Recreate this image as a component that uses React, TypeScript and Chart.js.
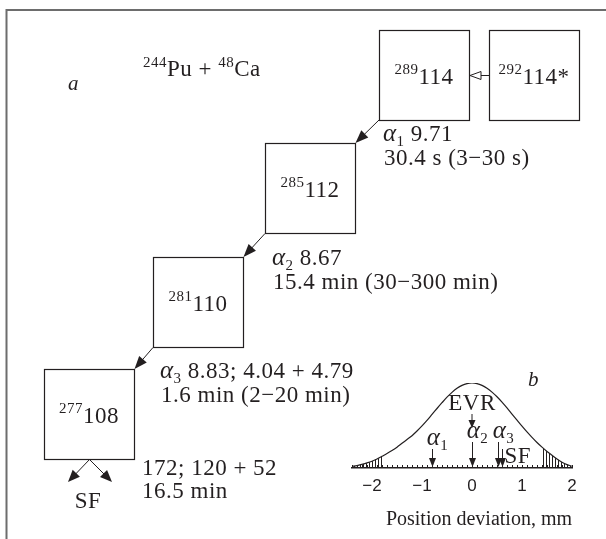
import React, { useEffect, useRef } from "react";
import { Chart, registerables } from "chart.js";

Chart.register(...registerables);

// ---------- panel b data (EVR position distribution) ----------
const positionMm = [
  -2.4, -2.3, -2.2, -2.1, -2.0, -1.9, -1.8, -1.7, -1.6, -1.5, -1.4, -1.3, -1.2, -1.1, -1.0, -0.9, -0.8, -0.7, -0.6, -0.5, -0.4, -0.3, -0.2, -0.1,
  0.0, 0.1, 0.2, 0.3, 0.4, 0.5, 0.6, 0.7, 0.8, 0.9, 1.0, 1.1, 1.2, 1.3, 1.4, 1.5, 1.6, 1.7, 1.8, 1.9, 2.0,
];
const distribution = [
  0.018, 0.028, 0.043, 0.06, 0.08, 0.105, 0.138, 0.17, 0.205, 0.245, 0.29, 0.335, 0.38, 0.435, 0.495, 0.56, 0.63, 0.7, 0.768, 0.833, 0.89, 0.937, 0.972, 0.993,
  1.0, 0.993, 0.972, 0.938, 0.893, 0.838, 0.775, 0.707, 0.635, 0.563, 0.492, 0.424, 0.36, 0.3, 0.245, 0.195, 0.15, 0.105, 0.068, 0.04, 0.02,
];
const hatchLeftMm = -1.8;
const hatchRightMm = 1.4;
const xTickValues = [-2, -1, 0, 1, 2];
const xTickLabels = ["\u22122", "\u22121", "0", "1", "2"];
const axisTitle = "Position deviation, mm";
const evrLabel = "EVR";
const evrMm = 0;
const alphaMarkerIndex = ["1", "2", "3"];
const alphaMarkerMm = [-0.8, 0, 0.52];
const sfLabel = "SF";
const sfMarkerMm = 0.6;
const minorTickStepMm = 0.1;

// ---------- panel a data (decay chain) ----------
const massNumbers = ["289", "292", "285", "281", "277"];
const elements = ["114", "114*", "112", "110", "108"];
const alphaIndex = ["1", "2", "3"];
const alphaEnergies = ["9.71", "8.67", "8.83; 4.04 + 4.79"];
const halfLives = ["30.4 s (3\u221230 s)", "15.4 min (30\u2212300 min)", "1.6 min (2\u221220 min)"];
const sfEnergies = "172; 120 + 52";
const sfHalfLife = "16.5 min";
const reactionMass = ["244", "48"];
const reactionText = ["Pu + ", "Ca"];
const panelLabels = ["a", "b"];

const SERIF = "'Liberation Serif', 'Times New Roman', serif";
const SANS = "'Liberation Sans', Arial, sans-serif";
const INK = "#231f20";

type Seg = { t: string; f: string; dy?: number };

function segsWidth(ctx: CanvasRenderingContext2D, segs: Seg[]) {
  let w = 0;
  for (const s of segs) {
    ctx.font = s.f;
    w += ctx.measureText(s.t).width;
  }
  return w;
}

function drawSegs(ctx: CanvasRenderingContext2D, x: number, y: number, segs: Seg[], align: "left" | "center" = "left") {
  const w = segsWidth(ctx, segs);
  let cx = align === "center" ? x - w / 2 : x;
  ctx.textAlign = "left";
  ctx.textBaseline = "alphabetic";
  for (const s of segs) {
    ctx.font = s.f;
    ctx.fillText(s.t, cx, y + (s.dy || 0));
    cx += ctx.measureText(s.t).width;
  }
}

function arrow(ctx: CanvasRenderingContext2D, x1: number, y1: number, x2: number, y2: number, len = 12, half = 4.5, open = false) {
  const a = Math.atan2(y2 - y1, x2 - x1);
  const bx = x2 - len * Math.cos(a);
  const by = y2 - len * Math.sin(a);
  ctx.beginPath();
  ctx.moveTo(x1, y1);
  ctx.lineTo(open ? bx : x2 - 2 * Math.cos(a), open ? by : y2 - 2 * Math.sin(a));
  ctx.stroke();
  const px = -Math.sin(a) * half;
  const py = Math.cos(a) * half;
  ctx.beginPath();
  ctx.moveTo(x2, y2);
  ctx.lineTo(bx + px, by + py);
  ctx.lineTo(bx - px, by - py);
  ctx.closePath();
  if (open) ctx.stroke();
  else ctx.fill();
}

export default function App() {
  const ref = useRef<HTMLCanvasElement | null>(null);

  useEffect(() => {
    const canvas = ref.current;
    if (!canvas) return;

    const pc = document.createElement("canvas");
    pc.width = 3;
    pc.height = 4;
    const pctx = pc.getContext("2d")!;
    pctx.fillStyle = INK;
    pctx.fillRect(0, 0, 1, 4);
    const hatch = canvas.getContext("2d")!.createPattern(pc, "repeat")!;

    const curve = positionMm.map((x, i) => ({ x, y: distribution[i] }));
    const leftTail = curve.filter((p) => p.x <= hatchLeftMm + 1e-9);
    const rightTail = curve.filter((p) => p.x >= hatchRightMm - 1e-9);

    const fMain = `23px ${SERIF}`;
    const fSup = `15px ${SERIF}`;
    const fAlpha = `italic 25px ${SERIF}`;
    const fSub = `15px ${SERIF}`;
    const fLetter = `italic 21px ${SERIF}`;

    const overlay = {
      id: "overlay",
      afterDraw(chart: any) {
        const ctx: CanvasRenderingContext2D = chart.ctx;
        ctx.save();
        (ctx as any).letterSpacing = "0.5px";
        ctx.fillStyle = INK;
        ctx.strokeStyle = INK;

        // frame
        ctx.strokeStyle = "#6d6d6d";
        ctx.lineWidth = 2;
        ctx.beginPath();
        ctx.moveTo(6.5, 539);
        ctx.lineTo(6.5, 10);
        ctx.lineTo(606, 10);
        ctx.stroke();
        ctx.strokeStyle = INK;

        // boxes
        const boxes = [
          [379, 30],
          [489, 30],
          [265, 143],
          [153, 257],
          [44, 369],
        ];
        const S = 90;
        ctx.lineWidth = 1.2;
        boxes.forEach(([bx, by], i) => {
          ctx.strokeRect(bx + 0.5, by + 0.5, S, S);
          drawSegs(ctx, bx + S / 2, by + S / 2 + 9, [
            { t: massNumbers[i], f: fSup, dy: -10 },
            { t: elements[i], f: fMain },
          ], "center");
        });

        // arrows along chain
        ctx.lineWidth = 1;
        arrow(ctx, 489, 75.5, 470, 75.5, 11, 4, true);
        arrow(ctx, 379, 120, 355.5, 143, 13, 5);
        arrow(ctx, 265, 233.5, 243.5, 257, 13, 5);
        arrow(ctx, 153, 347.5, 134.5, 369, 13, 5);
        arrow(ctx, 89.5, 459.5, 68, 482, 12, 5);
        arrow(ctx, 89.5, 459.5, 112, 482, 12, 5);

        // reaction
        drawSegs(ctx, 143, 76, [
          { t: reactionMass[0], f: fSup, dy: -9 },
          { t: reactionText[0], f: fMain },
          { t: reactionMass[1], f: fSup, dy: -9 },
          { t: reactionText[1], f: fMain },
        ]);
        ctx.font = fLetter;
        ctx.fillText(panelLabels[0], 68, 90);

        // alpha decay texts
        const alphaPos = [
          [383, 141],
          [272, 265],
          [160, 378],
        ];
        alphaPos.forEach(([ax, ay], i) => {
          drawSegs(ctx, ax, ay, [
            { t: "\u03b1", f: fAlpha },
            { t: alphaIndex[i], f: fSub, dy: 5 },
            { t: " " + alphaEnergies[i], f: fMain },
          ]);
          drawSegs(ctx, ax + 1, ay + 24, [{ t: halfLives[i], f: fMain }]);
        });
        drawSegs(ctx, 142, 475, [{ t: sfEnergies, f: fMain }]);
        drawSegs(ctx, 142, 498, [{ t: sfHalfLife, f: fMain }]);
        drawSegs(ctx, 88, 508, [{ t: sfLabel, f: fMain }], "center");

        // panel b overlays
        const xs = chart.scales.x;
        const ys = chart.scales.y;
        const base = ys.getPixelForValue(0);
        ctx.font = fLetter;
        ctx.fillText(panelLabels[1], 528, 386);

        ctx.lineWidth = 1;
        for (let v = xs.min; v <= xs.max + 1e-9; v += minorTickStepMm) {
          const px = Math.round(xs.getPixelForValue(v)) + 0.5;
          ctx.beginPath();
          ctx.moveTo(px, base);
          ctx.lineTo(px, base - 3);
          ctx.stroke();
        }

        const ex = xs.getPixelForValue(evrMm);
        drawSegs(ctx, ex, 410, [{ t: evrLabel, f: fMain }], "center");
        arrow(ctx, ex, 414, ex, 428, 8, 3.5);

        const labelY = [445, 438, 438];
        const arrowTop = [449, 442, 442];
        alphaMarkerMm.forEach((m, i) => {
          const px = Math.round(xs.getPixelForValue(m)) + 0.5;
          drawSegs(ctx, px + 5, labelY[i], [
            { t: "\u03b1", f: fAlpha },
            { t: alphaMarkerIndex[i], f: fSub, dy: 5 },
          ], "center");
          arrow(ctx, px, arrowTop[i], px, base - 1, 9, 3.5);
        });
        const sx = Math.round(xs.getPixelForValue(sfMarkerMm)) + 0.5;
        arrow(ctx, sx, 449, sx, base - 1, 9, 3.5);
        drawSegs(ctx, sx + 2, 463, [{ t: sfLabel, f: fMain }]);

        ctx.restore();
      },
    };

    const chart = new Chart(canvas, {
      type: "line",
      data: {
        datasets: [
          { data: leftTail, fill: "origin", backgroundColor: hatch, borderWidth: 0, pointRadius: 0, tension: 0.3 },
          { data: rightTail, fill: "origin", backgroundColor: hatch, borderWidth: 0, pointRadius: 0, tension: 0.3 },
          { data: curve, fill: false, borderColor: INK, borderWidth: 1.2, pointRadius: 0, tension: 0.3 },
        ],
      },
      options: {
        responsive: false,
        animation: false,
        devicePixelRatio: 1,
        layout: { padding: { left: 352, right: 34, top: 383, bottom: 0 } },
        plugins: { legend: { display: false }, tooltip: { enabled: false } },
        scales: {
          x: {
            type: "linear",
            min: -2.4,
            max: 2,
            afterBuildTicks: (s: any) => {
              s.ticks = xTickValues.map((v) => ({ value: v }));
            },
            afterFit: (s: any) => {
              s.height = 71;
            },
            ticks: {
              autoSkip: false,
              maxRotation: 0,
              padding: 8,
              color: INK,
              font: { family: SANS, size: 17 },
              callback: (v: any) => xTickLabels[xTickValues.indexOf(Number(v))] ?? "",
            },
            grid: { display: false, drawTicks: false },
            border: { display: true, color: INK, width: 1.5 },
            title: {
              display: true,
              text: axisTitle,
              align: "end",
              color: INK,
              font: { family: SERIF, size: 20 },
              padding: { top: 4, bottom: 7 },
            },
          },
          y: { display: false, min: 0, max: 1 },
        },
      },
      plugins: [overlay],
    } as any);

    return () => chart.destroy();
  }, []);

  return (
    <div style={{ position: "fixed", left: 0, top: 0, width: 606, height: 539, background: "#fff" }}>
      <canvas ref={ref} width={606} height={539} style={{ display: "block" }} />
    </div>
  );
}
